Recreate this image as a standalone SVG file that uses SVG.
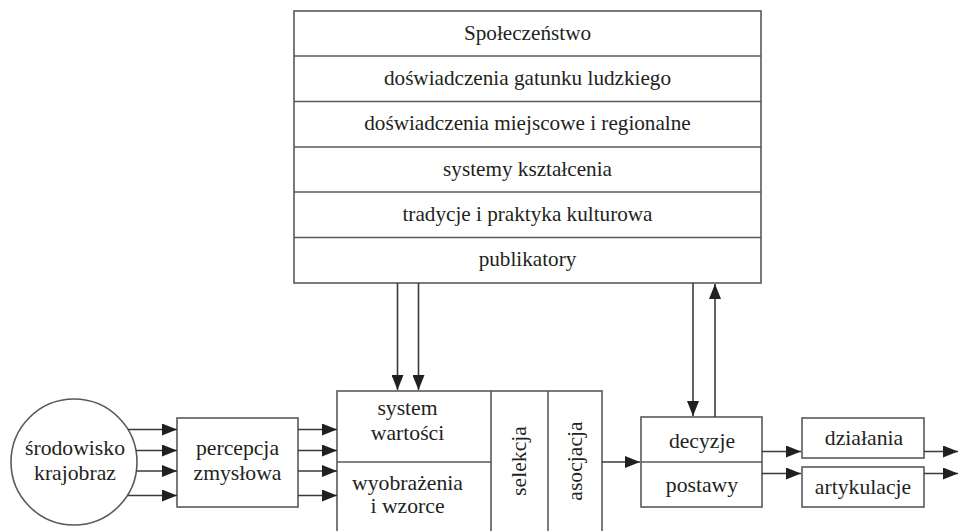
<svg xmlns="http://www.w3.org/2000/svg" width="959" height="531" viewBox="0 0 959 531">
<defs>
<marker id="ah" markerUnits="userSpaceOnUse" markerWidth="16" markerHeight="12" refX="15" refY="6" orient="auto">
<path d="M0,0 L15,6 L0,12 Z" fill="#231f20"/>
</marker>
</defs>
<style>
.box{fill:#fff;stroke:#58595b;stroke-width:1.6}
.ln{fill:none;stroke:#58595b;stroke-width:1.6}
.ar{fill:none;stroke:#3a3a3a;stroke-width:1.6;marker-end:url(#ah)}
.tx{font-family:'Liberation Serif','Times New Roman',Tinos,'DejaVu Serif',serif;fill:#231f20;text-anchor:middle}
.t1{font-size:21.2px}
.t2{font-size:21.7px}
</style>
<rect width="959" height="531" fill="#fff"/>
<g id="spoleczenstwo">
<rect class="box" x="294" y="11" width="467" height="272"/>
<line class="ln" x1="294" y1="56" x2="761" y2="56"/>
<line class="ln" x1="294" y1="101.5" x2="761" y2="101.5"/>
<line class="ln" x1="294" y1="147" x2="761" y2="147"/>
<line class="ln" x1="294" y1="192" x2="761" y2="192"/>
<line class="ln" x1="294" y1="237.5" x2="761" y2="237.5"/>
<text class="tx t1" x="527.5" y="40">Społeczeństwo</text>
<text class="tx t1" x="527.5" y="85">doświadczenia gatunku ludzkiego</text>
<text class="tx t1" x="527.5" y="130">doświadczenia miejscowe i regionalne</text>
<text class="tx t1" x="527.5" y="176">systemy kształcenia</text>
<text class="tx t1" x="527.5" y="221">tradycje i praktyka kulturowa</text>
<text class="tx t1" x="527.5" y="266">publikatory</text>
</g>
<g id="srodowisko">
<circle class="box" cx="74" cy="462" r="63"/>
<text class="tx t2" x="75" y="455">środowisko</text>
<text class="tx t2" x="75" y="480">krajobraz</text>
</g>
<g id="percepcja">
<rect class="box" x="177" y="418" width="121" height="89"/>
<text class="tx t2" x="237.5" y="455">percepcja</text>
<text class="tx t2" x="237.5" y="480">zmysłowa</text>
</g>
<g id="wartosci">
<rect class="box" x="337" y="391" width="265" height="145"/>
<line class="ln" x1="337" y1="462" x2="491" y2="462"/>
<line class="ln" x1="491" y1="391" x2="491" y2="536"/>
<line class="ln" x1="548" y1="391" x2="548" y2="536"/>
<text class="tx t2" x="407.5" y="414.5">system</text>
<text class="tx t2" x="407.5" y="440">wartości</text>
<text class="tx t2" x="407.5" y="490">wyobrażenia</text>
<text class="tx t2" x="407.5" y="513">i wzorce</text>
<text class="tx t2" transform="translate(526,461) rotate(-90)">selekcja</text>
<text class="tx t2" transform="translate(582,461) rotate(-90)">asocjacja</text>
</g>
<g id="decyzje">
<rect class="box" x="641" y="417" width="121" height="90"/>
<line class="ln" x1="641" y1="462" x2="762" y2="462"/>
<text class="tx t2" x="702" y="448">decyzje</text>
<text class="tx t2" x="702" y="492">postawy</text>
</g>
<g id="dzialania">
<rect class="box" x="802" y="418" width="122" height="40"/>
<text class="tx t2" x="864" y="445">działania</text>
</g>
<g id="artykulacje">
<rect class="box" x="802" y="467" width="122" height="40"/>
<text class="tx t2" x="863" y="493.5">artykulacje</text>
</g>
<g id="connectors">
<line class="ar" x1="128" y1="429.5" x2="177" y2="429.5"/>
<line class="ar" x1="136" y1="450.5" x2="177" y2="450.5"/>
<line class="ar" x1="136" y1="471" x2="177" y2="471"/>
<line class="ar" x1="128" y1="495.5" x2="177" y2="495.5"/>
<line class="ar" x1="298" y1="429.5" x2="337" y2="429.5"/>
<line class="ar" x1="298" y1="450.5" x2="337" y2="450.5"/>
<line class="ar" x1="298" y1="471" x2="337" y2="471"/>
<line class="ar" x1="298" y1="495.5" x2="337" y2="495.5"/>
<line class="ar" x1="397.5" y1="283" x2="397.5" y2="390"/>
<line class="ar" x1="418.5" y1="283" x2="418.5" y2="390"/>
<line class="ar" x1="602" y1="462" x2="640" y2="462"/>
<line class="ar" x1="693" y1="283" x2="693" y2="416"/>
<line class="ar" x1="715" y1="417" x2="715" y2="284"/>
<line class="ar" x1="762" y1="451.5" x2="801" y2="451.5"/>
<line class="ar" x1="762" y1="473.5" x2="801" y2="473.5"/>
<line class="ar" x1="924" y1="451.5" x2="958" y2="451.5"/>
<line class="ar" x1="924" y1="473.5" x2="958" y2="473.5"/>
</g>
</svg>
